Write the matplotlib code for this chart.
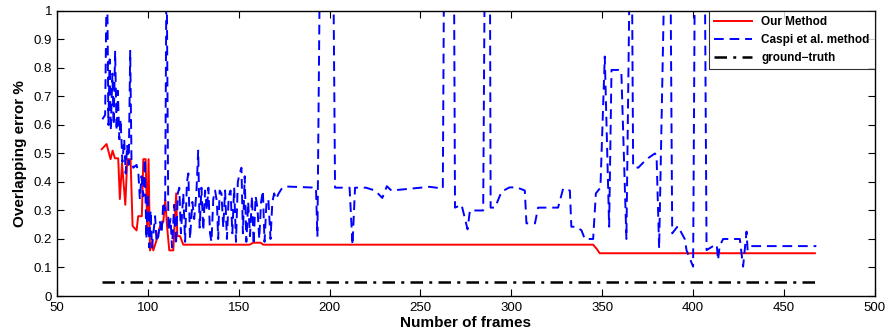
import matplotlib
matplotlib.use("Agg")
import matplotlib.pyplot as plt

plt.rcParams['font.family'] = ['Liberation Sans', 'DejaVu Sans']

# ground truth
gt_x = [75, 467]
gt_y = [0.05, 0.05]

# our method (red)
ours_x = [74.6, 77.3, 79.5, 80.6, 81.9, 83.7, 84.6, 85.8, 87.6, 88.7, 90.5, 91.6, 93.8,
          94.7, 96.7, 97.5, 98.8, 99.7, 100.4, 101.2, 102.3, 103.0, 104.8, 106.7, 108.5,
          109.6, 110.5, 111.8, 114.0, 115.6, 116.2, 117.7, 119.5, 156.0, 158.0, 162.0,
          163.5, 345.0, 347.0, 348.6, 467.0]
ours_y = [0.515, 0.533, 0.48, 0.51, 0.483, 0.483, 0.34, 0.466, 0.32, 0.48, 0.48, 0.246, 0.23,
          0.28, 0.28, 0.48, 0.48, 0.22, 0.48, 0.16, 0.19, 0.16, 0.196, 0.245, 0.26,
          0.337, 0.25, 0.16, 0.16, 0.36, 0.21, 0.21, 0.18, 0.18, 0.187, 0.187,
          0.18, 0.18, 0.165, 0.15, 0.15]

# Caspi et al. (blue dashed)
caspi_x = [75, 76.5, 77.5, 78.3, 79, 79.6, 80.5, 81.2, 82, 82.8, 83.5, 84.3, 85, 86, 87,
           87.8, 88.6, 89.5, 90.3, 91, 92, 93.8, 94.8, 95.6, 96.5, 97.5, 98.3, 99.2, 100,
           100.8, 101.5, 102.3, 103.2, 104, 104.8, 105.8, 106.7, 107.6, 108.5, 109.5, 110.3,
           111.3, 112.5, 113.3, 114.5, 115.5, 116.5, 117.3, 118.2, 119.5, 120.5, 121.5,
           122.3, 123.2, 124.5, 125.5, 126.7, 127.7, 128.5, 129.5, 130.5, 131.5, 132.5,
           133.3, 134.2, 135, 136, 137, 138, 138.7, 139.5, 140.5, 141.5, 142.5, 143.5,
           144.5, 145.5, 146.5, 147.5, 148.5, 149.5, 150.5, 151.5, 152.3, 153.3, 154.2,
           155.2, 156.2, 157.3, 158.2, 159.3, 160.3, 161.3, 162.3, 163.3, 164.2, 165.3,
           166.3, 167.5, 168.5, 169.5, 170.5, 172, 174, 176.3, 192.5, 193.3, 194.7, 202,
           203, 211, 212.6, 214, 218, 220, 225, 229, 231.5, 234, 255, 262.3, 263, 268.4,
           269, 272.6, 275.9, 277.2, 284.5, 285.4, 288.2, 288.6, 291, 294.6, 299, 303, 307.4,
           308.3, 313, 314.7, 325.7, 328.5, 332.2, 333, 335.8, 338.6, 340.4, 345, 346.5,
           349, 351.4, 353.8, 355.1, 358.8, 360.5, 363.3, 365.2, 366.3, 367, 369.8, 374.4,
           379, 379.9, 381.3, 384.4, 387.5, 388.5, 391.6, 395.4, 396.4, 400, 401, 406.4,
           407.4, 411, 413, 413.7, 414.6, 416.5, 425.7, 427.5, 429.4, 430, 432, 436.7, 467.8]
caspi_y = [0.62, 0.635, 1.2, 0.60, 0.83, 0.58, 0.78, 0.60, 0.86, 0.58, 0.72, 0.55, 0.62,
           0.47, 0.55, 0.43, 0.53, 0.46, 0.86, 0.48, 0.45, 0.46, 0.43, 0.34, 0.42, 0.35,
           0.48, 0.20, 0.36, 0.17, 0.30, 0.17, 0.23, 0.28, 0.19, 0.21, 0.26, 0.22, 0.33,
           0.30, 1.2, 0.23, 0.27, 0.17, 0.32, 0.18, 0.36, 0.38, 0.22, 0.36, 0.19, 0.40,
           0.43, 0.20, 0.33, 0.27, 0.36, 0.51, 0.24, 0.38, 0.23, 0.37, 0.30, 0.38, 0.22,
           0.19, 0.34, 0.37, 0.33, 0.20, 0.37, 0.36, 0.24, 0.37, 0.20, 0.35, 0.37, 0.22,
           0.38, 0.19, 0.40, 0.43, 0.45, 0.22, 0.42, 0.19, 0.33, 0.21, 0.35, 0.18, 0.35,
           0.31, 0.20, 0.33, 0.37, 0.19, 0.33, 0.34, 0.20, 0.33, 0.36, 0.34, 0.36, 0.38,
           0.384, 0.38, 0.208, 1.2, 1.2, 0.38, 0.38, 0.179, 0.38, 0.38, 0.38, 0.37, 0.344,
           0.385, 0.37, 0.383, 0.377, 1.2, 1.2, 0.31, 0.32, 0.234, 0.30, 0.30, 1.2, 1.2,
           0.31, 0.31, 0.366, 0.381, 0.381, 0.37, 0.255, 0.255, 0.31, 0.31, 0.377, 0.37,
           0.243, 0.243, 0.23, 0.20, 0.20, 0.36, 0.38, 0.84, 0.243, 0.793, 0.793, 0.79,
           0.20, 1.2, 1.2, 0.454, 0.45, 0.48, 0.50, 0.49, 0.167, 1.2, 1.2, 0.22, 0.245,
           0.20, 0.16, 0.103, 1.2, 1.2, 0.161, 0.175, 0.18, 0.126, 0.175, 0.20, 0.20,
           0.103, 0.226, 0.16, 0.175, 0.175, 0.175]

fig = plt.figure(figsize=(8.9, 3.35), dpi=100)
ax = fig.add_axes([0.064, 0.1164, 0.919, 0.851])

ax.plot(ours_x, ours_y, color='#ff0000', lw=1.4, label='Our Method')
ax.plot(caspi_x, caspi_y, color='#0000ff', lw=1.4, linestyle=(0, (5, 3)),
        label='Caspi et al. method')
ax.plot(gt_x, gt_y, color='black', lw=1.8, linestyle=(0, (5, 2.5, 1.2, 2.5)),
        label='ground\u2212truth')

ax.set_xlim(50, 500)
ax.set_ylim(0, 1)
ax.set_xticks(range(50, 501, 50))
ax.set_yticks([i / 10 for i in range(11)])
ax.set_yticklabels(['0'] + ['%.1f' % (i / 10) for i in range(1, 10)] + ['1'])
ax.tick_params(direction='in', top=True, right=True, labelsize=9.5, length=5, width=0.8)
ax.tick_params(axis='x', pad=4.5)
for s in ax.spines.values():
    s.set_linewidth(1.0)

ax.set_xlabel('Number of frames', fontsize=11, fontweight='bold', labelpad=1.5)
ax.set_ylabel('Overlapping error %', fontsize=11, fontweight='bold', labelpad=5)

leg = ax.legend(loc='upper right', fontsize=8.5, frameon=True, fancybox=False,
                borderaxespad=0, handlelength=3.2, labelspacing=0.5, borderpad=0.45)
leg.get_frame().set_edgecolor('black')
leg.get_frame().set_linewidth(0.8)
for t in leg.get_texts():
    t.set_fontweight('bold')

fig.savefig('out.png', dpi=100)
